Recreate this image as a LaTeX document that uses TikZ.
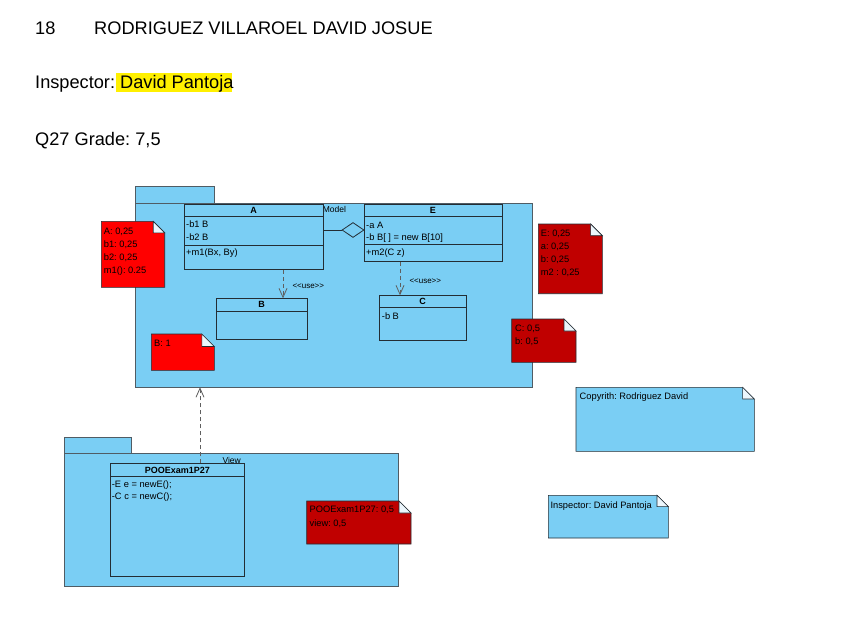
\documentclass[tikz,border=0pt]{standalone}
\usepackage{fontspec}
\setmainfont{Liberation Sans}
\usetikzlibrary{arrows.meta,shapes.geometric}
\frenchspacing
\definecolor{pkgblue}{RGB}{122,206,244}
\definecolor{pkgedge}{RGB}{80,92,100}
\definecolor{edgec}{RGB}{35,45,52}
\definecolor{notered}{RGB}{255,0,0}
\definecolor{notedark}{RGB}{192,0,0}
\definecolor{hilite}{RGB}{255,240,0}
\definecolor{depc}{RGB}{95,95,95}
\definecolor{foldc}{RGB}{236,246,252}
\newcommand{\umlnote}[6]{%
  \filldraw[notestyle, fill=#6] (#1,#2) -- ({#3-#5},#2) -- (#3,{#2+#5}) -- (#3,#4) -- (#1,#4) -- cycle;
  \filldraw[notestyle, fill=foldc] ({#3-#5},#2) -- ({#3-#5},{#2+#5}) -- (#3,{#2+#5}) -- cycle;
}
\begin{document}
\begin{tikzpicture}[x=1pt,y=-1pt,
  big/.style={font=\fontsize{18.2}{20}\selectfont, anchor=base west, inner sep=0},
  sm/.style={font=\fontsize{9.3}{11}\selectfont, anchor=base west, inner sep=0, text=black},
  smb/.style={font=\bfseries\fontsize{9}{11}\selectfont, anchor=base, inner sep=0},
  tinyt/.style={font=\fontsize{8}{10}\selectfont, anchor=base west, inner sep=0},
  pkg/.style={draw=pkgedge, fill=pkgblue, line width=0.8pt, anchor=north west, inner sep=0},
  cls/.style={draw=edgec, fill=pkgblue, line width=0.8pt, anchor=north west, inner sep=0},
  notestyle/.style={draw=edgec, line width=0.6pt},
  sepline/.style={draw=edgec, line width=0.8pt},
  dep/.style={draw=depc, line width=0.8pt, dash pattern=on 4pt off 3pt, -{Straight Barb[length=9pt,width=8pt]}},
]
\useasboundingbox (0,0) rectangle (843,621);
\fill[white] (0,0) rectangle (843,621);

% header texts
\node[big] (num) at (35,34.3) {18};
\node[big] (name) at (94,34.3) {RODRIGUEZ VILLAROEL DAVID JOSUE};
\fill[hilite] (116,73) rectangle (232,92);
\node[big] (insp) at (35,88.7) {Inspector: David Pantoja};
\node[big] (grade) at (35,145) {Q27 Grade: 7,5};

% Model package
\node[pkg, minimum width=79pt, minimum height=17pt] (modeltab) at (135,186) {};
\node[pkg, minimum width=397pt, minimum height=183.5pt] (model) at (135,203) {};
\node[tinyt, font=\fontsize{8.5}{10}\selectfont] (modellbl) at (322.7,212.7) {Model};

% class A
\node[cls, minimum width=139pt, minimum height=65pt] (A) at (184,204) {};
\draw[sepline] ([yshift=-12pt]A.north west) -- ([yshift=-12pt]A.north east);
\draw[sepline] ([yshift=-41pt]A.north west) -- ([yshift=-41pt]A.north east);
\node[smb] (Aname) at (253.5,213.7) {A};
\node[sm] (Aa1) at (186,227.7) {-b1 B};
\node[sm] (Aa2) at (186,240.7) {-b2 B};
\node[sm] (Am1) at (186,255) {+m1(Bx, By)};

% class E
\node[cls, minimum width=137.7pt, minimum height=57pt] (E) at (364,204) {};
\draw[sepline] ([yshift=-12pt]E.north west) -- ([yshift=-12pt]E.north east);
\draw[sepline] ([yshift=-40pt]E.north west) -- ([yshift=-40pt]E.north east);
\node[smb] (Ename) at (432.8,213.7) {E};
\node[sm] (Ea1) at (366,228) {-a A};
\node[sm] (Ea2) at (366,240.3) {-b B[ ] = new B[10]};
\node[sm] (Em1) at (366,255.5) {+m2(C z)};

% aggregation
\node[diamond, draw=edgec, fill=pkgblue, line width=0.8pt, minimum width=22pt, minimum height=15pt, inner sep=0, aspect=1.47] (dia) at (353,230) {};
\draw[sepline] (dia.west -| A.east) -- (dia.west);

% class B
\node[cls, minimum width=91pt, minimum height=41pt] (B) at (216,298.3) {};
\draw[sepline] ([yshift=-12.7pt]B.north west) -- ([yshift=-12.7pt]B.north east);
\node[smb] (Bname) at (261.5,307.3) {B};

% class C
\node[cls, minimum width=86.4pt, minimum height=45pt] (C) at (379.3,295.3) {};
\draw[sepline] ([yshift=-12.4pt]C.north west) -- ([yshift=-12.4pt]C.north east);
\node[smb] (Cname) at (422.5,304.7) {C};
\node[sm] (Ca1) at (381.7,319) {-b B};

% dependencies
\draw[dep] ([xshift=99pt]A.south west) -- ([xshift=67pt]B.north west);
\node[tinyt] (use1) at (292.3,288.3) {<{}<use>{}>};
\draw[dep] ([xshift=36pt]E.south west) -- ([xshift=20.7pt]C.north west);
\node[tinyt] (use2) at (409.3,283.5) {<{}<use>{}>};

% notes in model
\umlnote{101.3}{221.3}{164.7}{287.3}{11.5}{notered}
\node[sm] (nA1) at (103.7,234.3) {A: 0,25};
\node[sm] (nA2) at (103.7,247.3) {b1: 0,25};
\node[sm] (nA3) at (103.7,260.3) {b2: 0,25};
\node[sm] (nA4) at (103.7,273.3) {m1(): 0.25};

\umlnote{151.3}{334}{214.3}{370.3}{12.5}{notered}
\node[sm] (nB1) at (154,346.7) {B: 1};

\umlnote{538.3}{224}{602.3}{293.7}{11.7}{notedark}
\node[sm] (nE1) at (540.7,236) {E: 0,25};
\node[sm] (nE2) at (540.7,249) {a: 0,25};
\node[sm] (nE3) at (540.7,262) {b: 0,25};
\node[sm] (nE4) at (540.7,275) {m2 : 0,25};

\umlnote{511.7}{319}{576}{362.3}{12}{notedark}
\node[sm] (nC1) at (515,331.7) {C: 0,5};
\node[sm] (nC2) at (515,344.7) {b: 0,5};

% View package
\node[pkg, minimum width=66.7pt, minimum height=16pt] (viewtab) at (64.3,436.7) {};
\node[pkg, minimum width=333.7pt, minimum height=133.3pt] (view) at (64.3,452.7) {};
\node[tinyt, font=\fontsize{8.5}{10}\selectfont] (viewlbl) at (222.3,463) {View};

\node[cls, minimum width=134pt, minimum height=112.7pt] (POO) at (110.3,463.3) {};
\draw[sepline] ([yshift=-12.7pt]POO.north west) -- ([yshift=-12.7pt]POO.north east);
\node[smb] (POOname) at (177.3,473.3) {POOExam1P27};
\node[sm] (POOa1) at (111.7,487.7) {-E e = newE();};
\node[sm] (POOa2) at (111.7,499.7) {-C c = newC();};

\draw[dep] ([xshift=89.7pt]POO.north west) -- ([xshift=65pt]model.south west);

\umlnote{306.7}{501}{411}{544}{12}{notedark}
\node[sm] (nP1) at (309.5,512.3) {POOExam1P27: 0,5};
\node[sm] (nP2) at (309.5,526) {view: 0,5};

% other notes
\umlnote{576}{387.3}{754.3}{451.3}{11.7}{pkgblue}
\node[sm] (nCopy) at (579.5,399.3) {Copyrith: Rodriguez David};

\umlnote{548.3}{495.3}{668.3}{538}{11.3}{pkgblue}
\node[sm] (nInsp) at (550.3,508.3) {Inspector: David Pantoja};
\end{tikzpicture}
\end{document}
